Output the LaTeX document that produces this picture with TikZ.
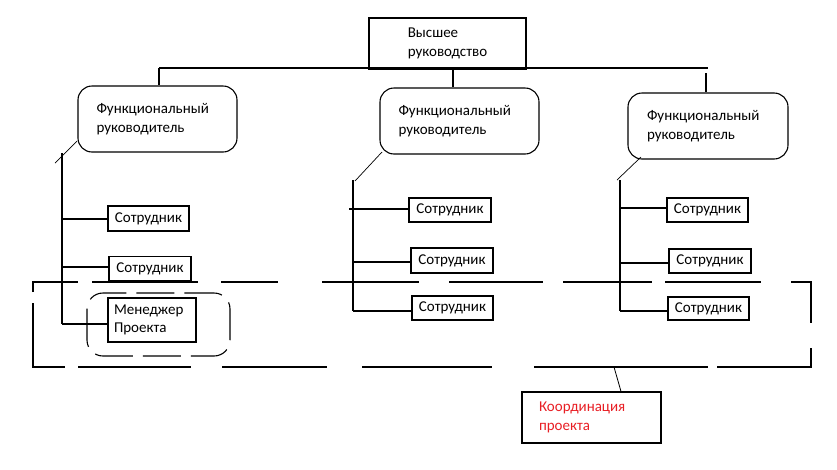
\documentclass[tikz,border=0pt]{standalone}
\usepackage{fontspec}
\setmainfont{Carlito}
\definecolor{coordred}{RGB}{232,30,36}
\begin{document}
\begin{tikzpicture}[x=1pt,y=-1pt,line width=1.1pt,
  font=\fontsize{15}{18.5}\selectfont,
  sq/.style={draw,inner sep=0pt,align=center},
  emp/.style={sq,minimum width=82,minimum height=24},
  fr/.style={draw,rounded corners=14pt,inner sep=0pt,minimum width=159,minimum height=66,text width=122,align=left},
  bigdash/.style={line cap=butt},
  grpdash/.style={dash pattern=on 38pt off 10pt,rounded corners=16pt}]
\useasboundingbox (0,0) rectangle (837,469);

% top management
\node[sq,minimum width=157,minimum height=51,align=left] (top) at (447.5,43.5) {Высшее\\руководство};

% functional managers
\node[fr] (fr1) at (157.5,119) {Функциональный\\руководитель};
\node[fr] (fr2) at (459.5,121) {Функциональный\\руководитель};
\node[fr,minimum width=160] (fr3) at (708,126) {Функциональный\\руководитель};

% employees
\node[emp,minimum width=81,minimum height=25] (e11) at (148.5,218.5) {Сотрудник};
\node[emp] (e12) at (150,268.5) {Сотрудник};
\node[draw,inner sep=0pt,minimum width=88,minimum height=44,text width=76,align=left] (mgr) at (152,320) {Менеджер\\Проекта};

\node[emp] (m1) at (450,210) {Сотрудник};
\node[emp,minimum height=25] (m2) at (452,260.5) {Сотрудник};
\node[emp,minimum width=81] (m3) at (452.5,308) {Сотрудник};

\node[emp,minimum width=81] (r1) at (707.5,210) {Сотрудник};
\node[emp] (r2) at (710,261) {Сотрудник};
\node[emp,minimum width=81,minimum height=23] (r3) at (708.5,308.5) {Сотрудник};

% project coordination
\node[draw,inner sep=0pt,minimum width=139,minimum height=51,text width=105,align=left,text=coordred] (coord) at (591.5,417.5) {Координация\\проекта};

% bus from top management
\coordinate (busL) at (159,68);
\coordinate (busR) at (708,68);
\coordinate (b2) at (453,68);
\coordinate (b3) at (706,73);
\draw (busL) -- (busR);
\draw (busL) -- (busL |- fr1.north);
\draw (b2) -- (b2 |- fr2.north);
\draw (b3) -- (b3 |- fr3.north);

% left group
\coordinate (d1s) at (77,141);
\coordinate (d1e) at (55,163);
\coordinate (t1top) at (62,153);
\coordinate (t1bot) at (62,324);
\coordinate (t1a) at (62,219);
\coordinate (t1b) at (62,267);
\draw[line width=0.7pt] (d1s) -- (d1e);
\draw (t1top) -- (t1bot);
\draw (t1a) -- (t1a -| e11.west);
\draw (t1b) -- (t1b -| e12.west);
\draw (t1bot) -- (t1bot -| mgr.west);

% middle group
\coordinate (d2s) at (382,152);
\coordinate (d2e) at (355,181);
\coordinate (t2top) at (353,180);
\coordinate (t2bot) at (353,311);
\coordinate (t2a) at (349,209);
\coordinate (t2b) at (353,262);
\draw[line width=0.7pt] (d2s) -- (d2e);
\draw (t2top) -- (t2bot);
\draw (t2a) -- (t2a -| m1.west);
\draw (t2b) -- (t2b -| m2.west);
\draw (t2bot) -- (t2bot -| m3.west);

% right group
\coordinate (d3s) at (641,157);
\coordinate (d3e) at (617,180);
\coordinate (t3top) at (620,180);
\coordinate (t3bot) at (620,311);
\coordinate (t3a) at (620,208);
\coordinate (t3b) at (620,263);
\draw[line width=0.7pt] (d3s) -- (d3e);
\draw (t3top) -- (t3bot);
\draw (t3a) -- (t3a -| r1.west);
\draw (t3b) -- (t3b -| r2.west);
\draw (t3bot) -- (t3bot -| r3.west);

% project manager group (dashed rounded)
\draw[grpdash] (87,293) rectangle (230,356);

% project coordination frame (long dashes)
\draw[bigdash]
  (33,292) -- (33,282) -- (78,282)
  (92,282) -- (198,282)
  (221,282) -- (278,282)
  (322,282) -- (419,282)
  (449,282) -- (543,282)
  (563,282) -- (652,282)
  (665,282) -- (761,282)
  (791,282) -- (811,282) -- (811,323)
  (33,303) -- (33,367) -- (65,367)
  (78,367) -- (191,367)
  (222,367) -- (327,367)
  (362,367) -- (492,367)
  (534,367) -- (708,367)
  (717,367) -- (811,367) -- (811,348);

\coordinate (cc) at (614,367);
\draw[line width=0.8pt] (cc) -- ([xshift=29.5pt]coord.north);
\end{tikzpicture}
\end{document}
